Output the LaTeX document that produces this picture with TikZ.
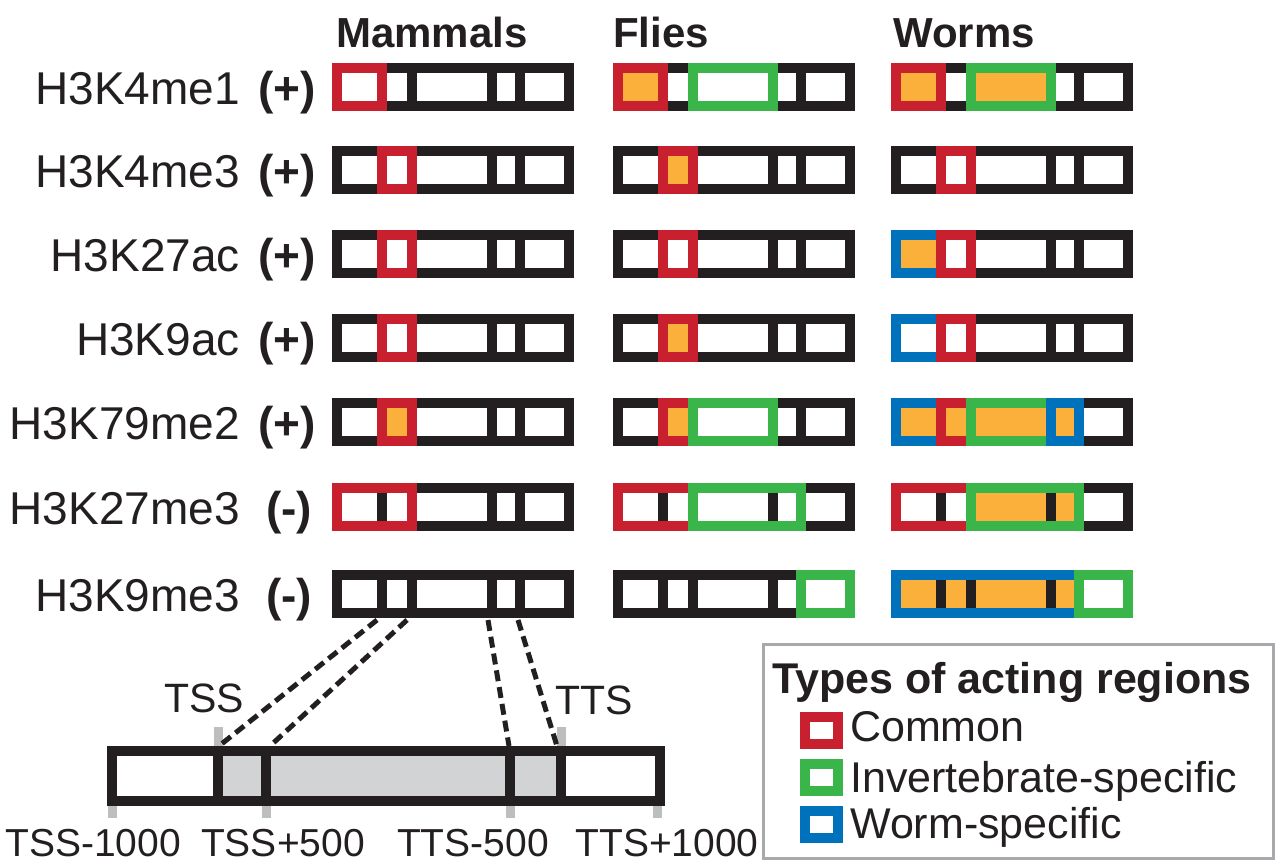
\documentclass[tikz,border=0pt]{standalone}
\usepackage{fontspec}
\setmainfont{Liberation Sans}
\usetikzlibrary{positioning}

\definecolor{cblack}{RGB}{35,31,32}
\definecolor{cred}{RGB}{200,32,46}
\definecolor{cgreen}{RGB}{57,181,74}
\definecolor{cblue}{RGB}{0,114,188}
\definecolor{camber}{RGB}{251,176,59}
\definecolor{cshade}{RGB}{209,211,212}
\definecolor{ctick}{RGB}{188,190,192}
\definecolor{cframe}{RGB}{167,169,172}

% gene bar: #1 = left edge, #2 = top edge
\newcommand{\genebar}[2]{%
  \draw[barline] (#1+5,#2+5) rectangle (#1+237,#2+43);
  \foreach \e in {50,80,160,188}
    \draw[barline] (#1+\e,#2+5) -- (#1+\e,#2+43);
}
% acting region: #3,#4 = edges, #5 = frame colour, #6 = inside
\newcommand{\actbox}[6]{%
  \fill[#6] (#1+#3,#2+5) rectangle (#1+#4,#2+43);
  \draw[barline, draw=#5] (#1+#3,#2+5) rectangle (#1+#4,#2+43);
}
\newcommand{\innerdiv}[3]{%
  \draw[barline] (#1+#3,#2+10) -- (#1+#3,#2+38);
}

\begin{document}
\begin{tikzpicture}[x=1pt, y=-1pt,
    barline/.style={draw=cblack, line width=10pt},
    head/.style={font=\fontsize{42}{46}\selectfont\bfseries, text=cblack, inner sep=0pt, anchor=base west},
    histlabel/.style={font=\fontsize{46}{50}\selectfont, text=cblack, inner sep=0pt, anchor=base east},
    signlabel/.style={font=\fontsize{46}{50}\selectfont\bfseries, text=cblack, inner sep=0pt, anchor=base},
    poslabel/.style={font=\fontsize{39}{44}\selectfont, text=cblack, inner sep=0pt, anchor=base},
    sitelabel/.style={font=\fontsize{41}{46}\selectfont, text=cblack, inner sep=0pt, anchor=base},
    legtitle/.style={font=\fontsize{43}{48}\selectfont\bfseries, text=cblack, inner sep=0pt, anchor=base west},
    legtext/.style={font=\fontsize{43}{48}\selectfont, text=cblack, inner sep=0pt, anchor=base west},
    legbox/.style={line width=10pt, minimum width=33pt, minimum height=27pt, inner sep=0pt, fill=white},
    gtick/.style={draw=ctick, line width=9pt},
    zoomline/.style={draw=cblack, line width=5pt, dash pattern=on 11pt off 6pt},
  ]
  \useasboundingbox[fill=white] (0,0) rectangle (1280,865);

  % column heads
  \node[head] (hmam) at (336,47) {Mammals};
  \node[head] (hfly) at (613,47) {Flies};
  \node[head] (hworm) at (893,47) {Worms};

  % histone marks
  \node[histlabel] (l1) at (240,104) {H3K4me1};
  \node[histlabel] (l2) at (240,187) {H3K4me3};
  \node[histlabel] (l3) at (240,271) {H3K27ac};
  \node[histlabel] (l4) at (240,355) {H3K9ac};
  \node[histlabel] (l5) at (240,439) {H3K79me2};
  \node[histlabel] (l6) at (240,524) {H3K27me3};
  \node[histlabel] (l7) at (240,611) {H3K9me3};

  \node[signlabel] (s1) at (287,104) {(+)};
  \node[signlabel] (s2) at (287,187) {(+)};
  \node[signlabel] (s3) at (287,271) {(+)};
  \node[signlabel] (s4) at (287,355) {(+)};
  \node[signlabel] (s5) at (287,439) {(+)};
  \node[signlabel] (s6) at (289,524) {(-)};
  \node[signlabel] (s7) at (289,611) {(-)};

  % mammals
  \genebar{332}{63}
  \actbox{332}{63}{5}{50}{cred}{white}
  \genebar{332}{146}
  \actbox{332}{146}{50}{80}{cred}{white}
  \genebar{332}{230}
  \actbox{332}{230}{50}{80}{cred}{white}
  \genebar{332}{314}
  \actbox{332}{314}{50}{80}{cred}{white}
  \genebar{332}{398}
  \actbox{332}{398}{50}{80}{cred}{camber}
  \genebar{332}{483}
  \actbox{332}{483}{5}{80}{cred}{white}
  \innerdiv{332}{483}{50}
  \genebar{332}{570}

  % flies
  \genebar{613}{63}
  \actbox{613}{63}{5}{50}{cred}{camber}
  \actbox{613}{63}{80}{160}{cgreen}{white}
  \genebar{613}{146}
  \actbox{613}{146}{50}{80}{cred}{camber}
  \genebar{613}{230}
  \actbox{613}{230}{50}{80}{cred}{white}
  \genebar{613}{314}
  \actbox{613}{314}{50}{80}{cred}{camber}
  \genebar{613}{398}
  \actbox{613}{398}{50}{80}{cred}{camber}
  \actbox{613}{398}{80}{160}{cgreen}{white}
  \genebar{613}{483}
  \actbox{613}{483}{5}{80}{cred}{white}
  \innerdiv{613}{483}{50}
  \actbox{613}{483}{80}{188}{cgreen}{white}
  \innerdiv{613}{483}{160}
  \genebar{613}{570}
  \actbox{613}{570}{188}{237}{cgreen}{white}

  % worms
  \genebar{891}{63}
  \actbox{891}{63}{5}{50}{cred}{camber}
  \actbox{891}{63}{80}{160}{cgreen}{camber}
  \genebar{891}{146}
  \actbox{891}{146}{50}{80}{cred}{white}
  \genebar{891}{230}
  \actbox{891}{230}{5}{50}{cblue}{camber}
  \actbox{891}{230}{50}{80}{cred}{white}
  \genebar{891}{314}
  \actbox{891}{314}{5}{50}{cblue}{white}
  \actbox{891}{314}{50}{80}{cred}{white}
  \genebar{891}{398}
  \actbox{891}{398}{5}{50}{cblue}{camber}
  \actbox{891}{398}{50}{80}{cred}{camber}
  \actbox{891}{398}{80}{160}{cgreen}{camber}
  \actbox{891}{398}{160}{188}{cblue}{camber}
  \genebar{891}{483}
  \actbox{891}{483}{5}{80}{cred}{white}
  \innerdiv{891}{483}{50}
  \actbox{891}{483}{80}{188}{cgreen}{camber}
  \innerdiv{891}{483}{160}
  \genebar{891}{570}
  \actbox{891}{570}{5}{188}{cblue}{camber}
  \innerdiv{891}{570}{50}
  \innerdiv{891}{570}{80}
  \innerdiv{891}{570}{160}
  \actbox{891}{570}{188}{237}{cgreen}{white}

  % enlarged gene model
  \draw[gtick] (218,727) -- (218,751);
  \draw[gtick] (561,727) -- (561,751);
  \draw[gtick] (112,801) -- (112,818);
  \draw[gtick] (266,801) -- (266,818);
  \draw[gtick] (510,801) -- (510,818);
  \draw[gtick] (657,801) -- (657,818);
  \fill[cshade] (218,751) rectangle (561,801);
  \draw[barline] (112,751) rectangle (660,801);
  \foreach \e in {218,266,510,561}
    \draw[barline] (\e,751) -- (\e,801);

  \node[sitelabel] (tsslab) at (204,712) {TSS};
  \node[sitelabel] (ttslab) at (594,714) {TTS};
  \node[poslabel] (p1) at (93,856) {TSS-1000};
  \node[poslabel] (p2) at (283,856) {TSS+500};
  \node[poslabel] (p3) at (473,856) {TTS-500};
  \node[poslabel] (p4) at (667,856) {TTS+1000};

  % zoom connectors
  \coordinate (k1) at (377,620);
  \coordinate (k2) at (407,620);
  \coordinate (k3) at (488,620);
  \coordinate (k4) at (518,620);
  \coordinate (tss) at (219,746);
  \coordinate (tssp) at (270,746);
  \coordinate (ttsm) at (509,746);
  \coordinate (tts) at (557,746);
  \draw[zoomline] (k1) -- (tss);
  \draw[zoomline] (k2) -- (tssp);
  \draw[zoomline] (k3) -- (ttsm);
  \draw[zoomline] (k4) -- (tts);

  % legend
  \draw[draw=cframe, line width=3pt] (763,644) rectangle (1273,858);
  \node[legtitle] (legt) at (772,693) {Types of acting regions};
  \node[legbox, draw=cred] (lcom) at (821.5,730.5) {};
  \node[legbox, draw=cgreen] (linv) at (821.5,777) {};
  \node[legbox, draw=cblue] (lworm) at (821.5,824.5) {};
  \node[legtext] (tcom) at (850,741) {Common};
  \node[legtext] (tinv) at (850,792) {Invertebrate-specific};
  \node[legtext] (tworm) at (850,838) {Worm-specific};
\end{tikzpicture}
\end{document}
